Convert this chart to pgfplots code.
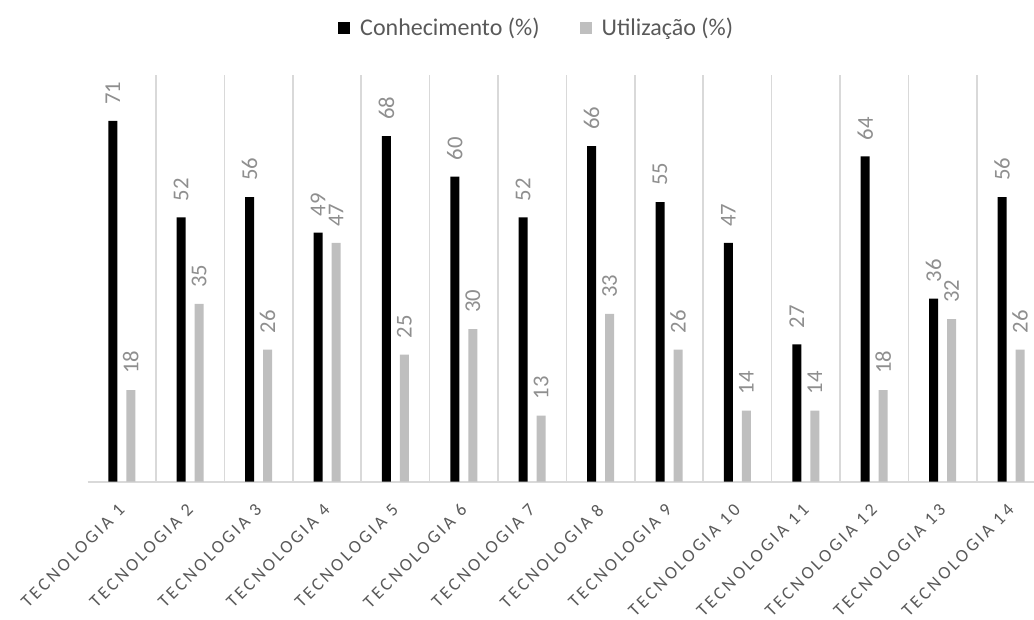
\documentclass[border=0pt]{standalone}
\usepackage{fontspec}
\setmainfont{Carlito}
\newfontfamily\tickfont[LetterSpace=16]{Carlito}
\usepackage{pgfplots}
\pgfplotsset{compat=1.18}

\definecolor{knowcolor}{HTML}{000000}
\definecolor{usecolor}{HTML}{BFBFBF}
\definecolor{gridcolor}{HTML}{D9D9D9}
\definecolor{textcolor}{HTML}{595959}
\definecolor{labelcolor}{HTML}{8F8F8F}

\begin{document}
\begin{tikzpicture}
\begin{axis}[
  at={(0pt,0pt)}, anchor=south west,
  scale only axis, width=709.8pt, height=305pt,
  xmin=-0.5, xmax=13.336, ymin=0, ymax=80,
  ybar=6.75pt, bar width=6.75pt,
  axis x line*=bottom, axis y line=none,
  x axis line style={gridcolor, line width=1.5pt},
  xtick={0,...,13},
  xticklabels={TECNOLOGIA 1,TECNOLOGIA 2,TECNOLOGIA 3,TECNOLOGIA 4,TECNOLOGIA 5,TECNOLOGIA 6,TECNOLOGIA 7,TECNOLOGIA 8,TECNOLOGIA 9,TECNOLOGIA 10,TECNOLOGIA 11,TECNOLOGIA 12,TECNOLOGIA 13,TECNOLOGIA 14},
  major tick length=0pt, minor tick length=0pt,
  minor xtick={0.5,1.5,...,12.5},
  xminorgrids, minor grid style={gridcolor, line width=1.1pt},
  ytick=\empty,
  xticklabel style={font=\tickfont\fontsize{13.5}{16}\selectfont, text=textcolor,
    yshift=-19pt, rotate=45, anchor=east, inner sep=0pt},
  /pgf/number format/assume math mode=true,
  nodes near coords,
  every node near coord/.append style={rotate=90, anchor=west,
    font=\fontsize{17}{20}\selectfont, text=labelcolor, inner xsep=12pt, inner ysep=0pt},
  legend style={at={(0.4749,1.1156)}, anchor=center, draw=none, fill=none,
    legend columns=2, font=\fontsize{18}{22}\selectfont, text=textcolor,
    /tikz/every odd column/.append style={column sep=5.5pt},
    /tikz/every even column/.append style={column sep=28pt}},
  clip=false,
]
\addplot[fill=knowcolor, draw=none,
  legend image code/.code={\fill[knowcolor] (0pt,-4.5pt) rectangle (9pt,4.5pt);}]
  coordinates {(0,71) (1,52) (2,56) (3,49) (4,68) (5,60) (6,52) (7,66) (8,55) (9,47) (10,27) (11,64) (12,36) (13,56)};
\addplot[fill=usecolor, draw=none,
  legend image code/.code={\fill[usecolor] (0pt,-4.5pt) rectangle (9pt,4.5pt);}]
  coordinates {(0,18) (1,35) (2,26) (3,47) (4,25) (5,30) (6,13) (7,33) (8,26) (9,14) (10,14) (11,18) (12,32) (13,26)};
\legend{Conhecimento (\%), Utilização (\%)}
\end{axis}
\pgfresetboundingbox
\useasboundingbox (-65.7pt,-103pt) rectangle (709.8pt,361.3pt);
\end{tikzpicture}
\end{document}
